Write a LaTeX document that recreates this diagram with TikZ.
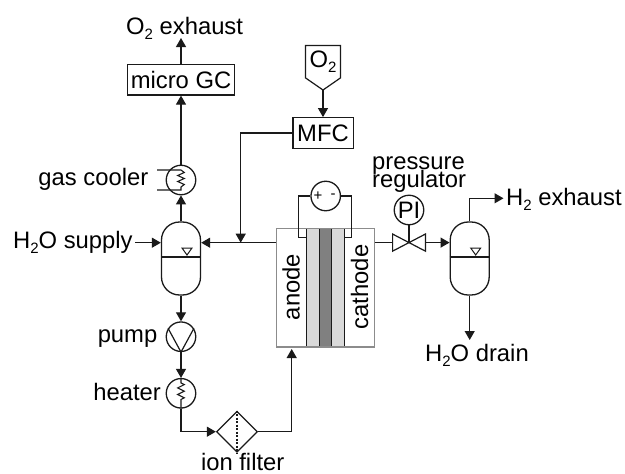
\documentclass[tikz,border=0pt]{standalone}
\usepackage{fontspec}
\setmainfont{Liberation Sans}
\usetikzlibrary{arrows.meta,shapes.geometric,calc}
\definecolor{dk}{HTML}{1A1A1A}
\newcommand{\lowtwo}{\raisebox{-5pt}{\fontsize{15}{15}\selectfont 2}}
\tikzset{
    pipe/.style =   {draw=dk,
                    line width=1.2pt},
    flow/.style =   {pipe,
                    ->},
    vessel/.style = {rectangle,
                    rounded corners=18pt,
                    draw=dk,
                    line width=1.3pt,
                    inner sep=0pt,
                    minimum width=39pt,
                    minimum height=73pt},
    unit/.style =   {circle,
                    fill=white,
                    draw=dk,
                    line width=1.3pt,
                    inner sep=0pt,
                    minimum size=29.5pt},
    ctrl/.style =   {rectangle,
                    draw=dk,
                    line width=1.3pt,
                    text=black,
                    inner sep=0pt,
                    minimum height=30.5pt},
    txt/.style =    {inner sep=0pt,
                    text=black,
                    font=\fontsize{23.8}{19}\selectfont},
    strip/.style =  {rectangle,
                    draw=none,
                    inner sep=0pt,
                    minimum width=12.6pt,
                    minimum height=118.7pt},
    >={Triangle[length=9pt,width=10pt]},
    x=1pt,
    y=-1pt}
\begin{document}
\begin{tikzpicture}
    \useasboundingbox (0,0) rectangle (625,474);
    % cell
    \node[strip,fill=black!15]  (GL) at (313,287.6)   {};
    \node[strip,fill=black!50]  (MB) at (325.5,287.6) {};
    \node[strip,fill=black!15]  (GR) at (338,287.6)   {};
    \draw[pipe] (GL.north west) -- (GL.south west)
                (GL.north east) -- (GL.south east)
                (GR.north west) -- (GR.south west)
                (GR.north east) -- (GR.south east);
    \node[rectangle,draw=black!45,line width=1.3pt,inner sep=0pt,minimum width=97.6pt,minimum height=118.7pt] (cell) at (325.5,287.6) {};
    \node[txt,rotate=90] (anode)   at (291,287)   {anode};
    \node[txt,rotate=90] (cathode) at (359.5,287) {cathode};
    % power supply
    \node[unit] (psu) at (325.7,196) {};
    \node[inner sep=0pt,font=\fontsize{15}{15}\selectfont] (plus)  at (318,196) {+};
    \node[inner sep=0pt,font=\fontsize{15}{15}\selectfont] (minus) at (333,196) {-};
    \coordinate (eL) at (306.7,237.3);
    \coordinate (eR) at (344.3,237.3);
    \draw[pipe] (psu.west) -- (298.7,196) |- (eL);
    \draw[pipe] (psu.east) -- (351.7,196) |- (eR);
    % vessels
    \node[vessel] (sepA) at (181,258.5)   {};
    \node[vessel] (sepC) at (469.7,258.5) {};
    \foreach \v in {sepA,sepC} {
        \draw[pipe] ($(\v.west)+(0,-1.5)$) -- ($(\v.east)+(0,-1.5)$);
        \draw[draw=dk,line width=1pt] ($(\v.center)+(1,-10.5)$) -- ($(\v.center)+(11,-10.5)$) -- ($(\v.center)+(6,-3.5)$) -- cycle;
    }
    % units
    \node[unit] (cooler) at (181,180)   {};
    \node[unit] (pump)   at (181,336.7) {};
    \node[unit] (heater) at (181,393.3) {};
    \node[unit] (PI)     at (409,210)   {\fontsize{23.8}{23.8}\selectfont PI};
    \node[ctrl,minimum width=107.4pt] (GC)  at (181,79.7)  {\fontsize{23.8}{23.8}\selectfont micro GC};
    \node[ctrl,minimum width=60.3pt]  (MFC) at (323,133)   {\fontsize{23.8}{23.8}\selectfont MFC};
    \node[diamond,draw=dk,line width=1.3pt,inner sep=0pt,minimum width=41pt,minimum height=41pt] (filter) at (237,431.7) {};
    \draw[draw=dk,line width=1.2pt,dash pattern=on 2pt off 1.5pt] (filter.north) -- (filter.south);
    % pump wedge
    \draw[pipe] (pump.147) -- (pump.south) -- (pump.33);
    % coils
    \draw[draw=dk,line width=1.1pt] (157,170) -- (181,170) -- ++(3.3,2.5) -- ++(-6.6,3) -- ++(6.6,3) -- ++(-6.6,3) -- ++(6.6,3) -- ++(-3.3,2.5) -- (181,190) -- (157,190);
    \draw[draw=dk,line width=1.1pt] (heater.north) -- ++(0,5) -- ++(3.3,1.7) -- ++(-6.6,3.3) -- ++(6.6,3.3) -- ++(-6.6,3.3) -- ++(6.6,3.3) -- ++(-3.3,1.7) -- (heater.south);
    % valve
    \node[inner sep=0pt,minimum width=32.4pt,minimum height=16.7pt] (valve) at (409,242.6) {};
    \draw[pipe,line join=miter] (valve.north west) -- (valve.south east) -- (valve.north east) -- (valve.south west) -- cycle;
    % O2 cylinder
    \node[inner sep=0pt,minimum width=34.6pt,minimum height=32pt] (feed) at (323,61.7) {\fontsize{23.8}{23.8}\selectfont O\lowtwo};
    \coordinate (tip) at (323,90);
    \draw[pipe] (feed.south west) -- (feed.north west) -- (feed.north east) -- (feed.south east) -- (tip) -- cycle;
    % labels
    \node[txt,anchor=base west] (o2ex)  at (126,34)    {O\lowtwo\ exhaust};
    \node[txt,anchor=base east] (gasl)  at (148.5,185) {gas cooler};
    \node[txt,anchor=base west] (h2os)  at (13,248)    {H\lowtwo O supply};
    \node[txt,anchor=base east] (pumpl) at (157.5,342) {pump};
    \node[txt,anchor=base east] (heatl) at (161,400)   {heater};
    \node[txt,anchor=base]      (ionl)  at (242.7,470) {ion filter};
    \node[txt,anchor=base west,align=left] (regl) at (372,187) {pressure\\[-6pt]regulator};
    \node[txt,anchor=base west] (h2ex)  at (506,205)   {H\lowtwo\ exhaust};
    \node[txt,anchor=base west] (drain) at (425,361)   {H\lowtwo O drain};
    % connectors
    \coordinate (jct)   at (240.7,242.7);
    \coordinate (cIn)   at (291.7,349);
    \coordinate (h2in)  at (135,242.7);
    \coordinate (h2out) at (503.5,198.3);
    \draw[flow] (cooler.north) -- (GC.south);
    \draw[flow] (GC.north) -- (181,38);
    \draw[flow] (sepA.north) -- (cooler.south);
    \draw[flow] (h2in) -- (sepA.west |- h2in);
    \draw[flow] (cell.west |- jct) -- (sepA.east |- jct);
    \draw[flow] (MFC.west) -| (jct);
    \draw[flow] (tip) -- (MFC.north);
    \draw[flow] (sepA.south) -- (pump.north);
    \draw[flow] (pump.south) -- (heater.north);
    \draw[flow] (heater.south) |- (filter.west);
    \draw[flow] (filter.east) -| (cIn);
    \draw[pipe] (cell.east |- valve.west) -- (valve.west);
    \draw[pipe] (PI.south) -- (valve.center);
    \draw[flow] (valve.east) -- (sepC.west |- valve.east);
    \draw[flow] (sepC.north) |- (h2out);
    \draw[flow] (sepC.south) -- (469.7,340);
\end{tikzpicture}
\end{document}
